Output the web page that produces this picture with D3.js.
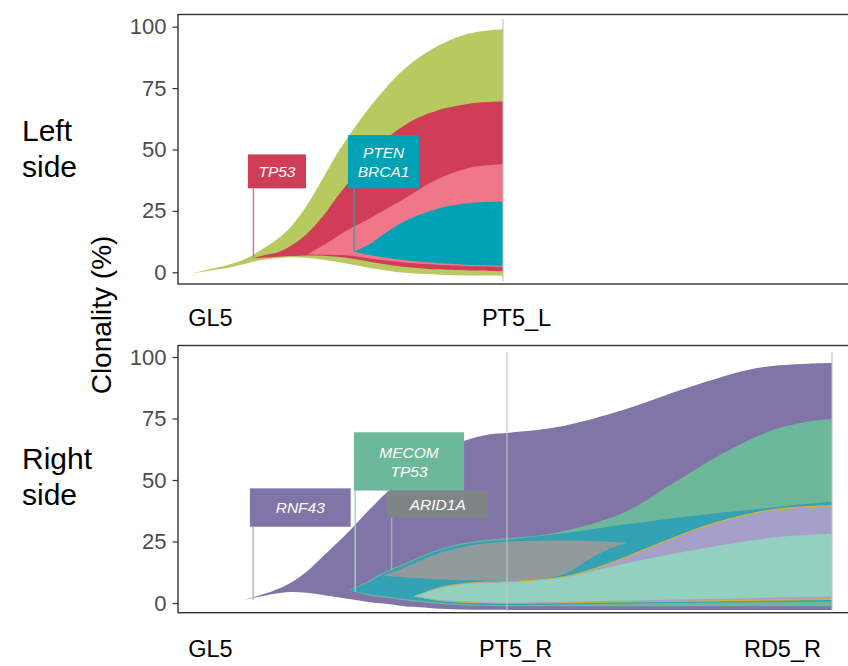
<!DOCTYPE html>
<html><head><meta charset="utf-8">
<script src="https://cdn.jsdelivr.net/npm/d3@7"></script>
<style>body{margin:0;background:#fff}svg{display:block}</style>
</head><body>
<svg id="c" width="848" height="666"></svg>
<script>
// ---------------- DATA ----------------
const yTicks = [0, 25, 50, 75, 100];
const timepointsTop = ["GL5", "PT5_L"];
const timepointsBottom = ["GL5", "PT5_R", "RD5_R"];
const labelPosTop = [9.8, 104];
const labelPosBottom = [8.6, 102.5, 184.6];
const sampleTimesTop = [100];
const sampleTimesBottom = [100, 200];

// Left side clones (t, lower %, upper %)
const leftGreenT  = [4.7, 10.9, 16, 21, 26, 31, 35, 39.5, 44.7, 48.8, 54, 59.1, 69.3, 79.6, 89.8, 100];
const leftGreenLo = [-0.4, 0.9, 2, 3.6, 5, 5.8, 6.1, 5.9, 5.1, 4.3, 3.1, 1.8, -0.1, -0.9, -1.35, -1.5];
const leftGreenHi = [-0.4, 1.6, 3.3, 5.6, 9.5, 14.0, 19.0, 27.0, 38.5, 48.0, 58.2, 67.4, 82.4, 91.9, 97.3, 99];

const leftRedT  = [23.1, 26, 31, 35, 39.5, 44.7, 48.8, 54, 59.1, 64.2, 69.3, 74.5, 79.6, 89.8, 100];
const leftRedLo = [5.6, 5.9, 6.3, 6.6, 6.8, 6.7, 6.3, 5.5, 4.3, 3.2, 2.3, 1.7, 1.2, 0.75, 0.5];
const leftRedHi = [5.6, 6.8, 8.3, 11, 15.5, 23, 30.5, 39, 47.5, 54.5, 59.5, 63.3, 65.8, 68.7, 69.5];

const leftPinkT  = [39.7, 44.7, 48.8, 54, 59.1, 69.3, 79.6, 89.8, 100];
const leftPinkLo = [7.2, 7.1, 7.0, 6.6, 5.6, 4.0, 3.1, 2.5, 2.2];
const leftPinkHi = [7.2, 11, 14.5, 18.5, 22, 29.7, 37.8, 42.6, 44];

const leftTealT  = [54.2, 59.1, 62.2, 69.3, 79.6, 89.8, 100];
const leftTealLo = [8.4, 7.0, 6.3, 5.0, 3.8, 3.0, 2.7];
const leftTealHi = [8.4, 11.5, 14.5, 20.5, 25.8, 28.2, 28.7];

// Right side clones
const rightPurpleT  = [18.9, 28.1, 33.2, 38.4, 43.4, 48.6, 52, 55.9, 59.9, 64, 69, 73.2, 79.4, 86.5, 94.8, 100, 115.4, 135.7, 156.3, 176.9, 192.3, 200];
const rightPurpleLo = [1.2, 3.7, 4.5, 4.2, 3.3, 2.2, 1.5, 0.7, 0.0, -0.5, -1.4, -1.7, -2.3, -2.6, -2.75, -2.8, -2.8, -2.8, -2.8, -2.8, -2.8, -2.8];
const rightPurpleHi = [1.2, 5.0, 8.0, 12.8, 19.0, 25.5, 30.0, 35.5, 41.0, 46.0, 51.5, 55.8, 61.2, 65.8, 68.6, 69.1, 71.5, 78.5, 87.8, 95.5, 97.3, 97.6];

const rightGreenT  = [51.4, 56.8, 61.9, 69.1, 79.4, 89.6, 100, 115.4, 135.7, 151.1, 166.5, 181.8, 192.3, 200];
const rightGreenLo = [5.3, 3.3, 2.3, 1.0, -0.4, -1.1, -1.3, -1.3, -1.3, -1.3, -1.3, -1.3, -1.3, -1.3];
const rightGreenHi = [5.3, 8.5, 12.3, 16.4, 22, 25, 26.3, 28.7, 36.6, 48.7, 60.9, 70.3, 73.7, 74.8];

const rightTealT  = [51.4, 56.8, 61.9, 69.1, 79.4, 89.6, 100, 115.4, 135.7, 151.1, 166.5, 181.8, 192.3, 200];
const rightTealLo = [5.3, 3.8, 2.8, 1.5, 0.1, -0.6, -0.8, -0.6, -0.3, 0, 0.2, 0.4, 0.5, 0.6];
const rightTealHi = [5.3, 8.0, 11.8, 15.9, 21.5, 24.5, 25.8, 28, 31.8, 34.5, 36.8, 38.8, 40.3, 41.2];

const rightGrayT  = [61.9, 69.1, 79.4, 89.6, 100, 110, 118.4, 123.4, 128, 131.7, 134.5, 137.2];
const rightGrayLo = [11, 10.4, 9.6, 9.2, 9.1, 9.6, 12.2, 16.2, 19.8, 22.2, 23.5, 24.4];
const rightGrayHi = [11, 14.8, 20.4, 23.6, 24.9, 25.3, 25.4, 25.3, 25.1, 24.9, 24.7, 24.4];

const rightSubT     = [71.2, 79.4, 89.6, 100, 118.4, 133.8, 149.1, 164.5, 179.9, 190.2, 200];
const rightYellowLo = [2.6, 0.8, 0, -0.3, -0.1, 0.2, 0.4, 0.6, 0.9, 1.05, 1.2];
const rightYellowHi = [2.6, 6.5, 8.4, 8.9, 11.1, 17.5, 25.6, 33, 37.8, 39.2, 39.8];
const rightLavLo    = [2.6, 1.0, 0.2, -0.1, 0.2, 0.5, 0.8, 1.1, 1.5, 1.7, 1.9];
const rightLavHi    = [2.6, 6.2, 8.15, 8.5, 10.7, 17.0, 25.1, 32.5, 37.3, 38.7, 39.3];
const rightMintLo   = [2.6, 1.2, 0.4, 0.1, 0.5, 0.9, 1.3, 1.7, 2.1, 2.4, 2.6];
const rightMintHi   = [2.6, 6.0, 8.0, 8.3, 10.6, 15.3, 19.5, 23.2, 26.3, 27.5, 28.3];

// Annotations: label lines, anchor (t, %), box extent in data units
const annLeft = [
  {lines: ["TP53"], t: 23.2, v: 5.7, t0: 21.5, t1: 39.4, v0: 34.2, v1: 48.0},
  {lines: ["PTEN", "BRCA1"], t: 54.2, v: 8.4, t0: 52.3, t1: 74.2, v0: 34.2, v1: 55.9}
];
const annRight = [
  {lines: ["RNF43"], t: 21.9, v: 1.2, t0: 20.9, t1: 51.9, v0: 31.0, v1: 46.6},
  {lines: ["MECOM", "TP53"], t: 53.3, v: 4.6, t0: 52.9, t1: 86.8, v0: 45.7, v1: 69.4},
  {lines: ["ARID1A"], t: 64.5, v: 13.4, t0: 63.2, t1: 94.2, v0: 34.7, v1: 45.5}
];

// ---------------- STYLE ----------------
const FONT = "'Liberation Sans', Arial, Helvetica, sans-serif";
const C = {
  lGreen: "#b8ca5f", lRed: "#cf3d56", lPink: "#f0768a", lTeal: "#00a3b5",
  rPurple: "#8175a8", rGreen: "#6db79a", rTeal: "#33a2b5", rGray: "#919b9b",
  rYellow: "#d4b42e", rLav: "#a59fc9", rMint: "#93d0bf"
};
const annLeftStyle = [{fill: "#cf3d56", line: "#dc7486"}, {fill: "#00a3b5", line: "#5d8e9e"}];
const annRightStyle = [{fill: "#8175a8", line: "#b6b0d5"}, {fill: "#6db79a", line: "#9fd4bd"}, {fill: "#7f8585", line: "#a9acac"}];

const svg = d3.select("#c");
const curve = d3.curveCatmullRom.alpha(0.5);

const panels = [
  {x: d3.scaleLinear().domain([0, 100]).range([178, 503]),
   y: d3.scaleLinear().domain([0, 100]).range([272.3, 26.7]),
   box: [178, 14.5, 680, 269.5], vline: [19, 281],
   samples: sampleTimesTop, labels: timepointsTop, labelPos: labelPosTop, labelY: 326,
   clones: [
     [leftGreenT, leftGreenLo, leftGreenHi, C.lGreen],
     [leftRedT, leftRedLo, leftRedHi, C.lRed],
     [leftPinkT, leftPinkLo, leftPinkHi, C.lPink],
     [leftTealT, leftTealLo, leftTealHi, C.lTeal]
   ],
   ann: annLeft, annStyle: annLeftStyle,
   title: ["Left", "side"], titleY: 141},
  {x: d3.scaleLinear().domain([0, 200]).range([182, 832]),
   y: d3.scaleLinear().domain([0, 100]).range([603, 357]),
   box: [178, 345.5, 680, 267.2], vline: [352, 611],
   samples: sampleTimesBottom, labels: timepointsBottom, labelPos: labelPosBottom, labelY: 657,
   clones: [
     [rightPurpleT, rightPurpleLo, rightPurpleHi, C.rPurple],
     [rightGreenT, rightGreenLo, rightGreenHi, C.rGreen],
     [rightTealT, rightTealLo, rightTealHi, C.rTeal],
     [rightGrayT, rightGrayLo, rightGrayHi, C.rGray],
     [rightSubT, rightYellowLo, rightYellowHi, C.rYellow],
     [rightSubT, rightLavLo, rightLavHi, C.rLav],
     [rightSubT, rightMintLo, rightMintHi, C.rMint]
   ],
   ann: annRight, annStyle: annRightStyle,
   title: ["Right", "side"], titleY: 469}
];

panels.forEach((p, pi) => {
  const g = svg.append("g");
  const clipId = "clip" + pi;
  svg.append("clipPath").attr("id", clipId).append("rect")
    .attr("x", p.box[0]).attr("y", p.box[1]).attr("width", p.box[2]).attr("height", p.box[3]);
  const body = g.append("g").attr("clip-path", `url(#${clipId})`);

  // clones
  p.clones.forEach(([T, lo, hi, col]) => {
    const data = T.map((t, i) => ({t, lo: lo[i], hi: hi[i]}));
    body.append("path").datum(data)
      .attr("d", d3.area().x(d => p.x(d.t)).y0(d => p.y(d.lo)).y1(d => p.y(d.hi)).curve(curve))
      .attr("fill", col);
  });

  // sample lines
  body.selectAll("line.s").data(p.samples).join("line")
    .attr("x1", d => p.x(d)).attr("x2", d => p.x(d))
    .attr("y1", p.vline[0]).attr("y2", p.vline[1])
    .attr("stroke", "#c4c4c4").attr("stroke-width", 1.1);

  // annotations
  p.ann.forEach((a, i) => {
    const st = p.annStyle[i];
    body.append("line")
      .attr("x1", p.x(a.t)).attr("x2", p.x(a.t))
      .attr("y1", p.y(a.v0)).attr("y2", p.y(a.v))
      .attr("stroke", st.line).attr("stroke-width", 1.4);
  });
  p.ann.forEach((a, i) => {
    const st = p.annStyle[i];
    const bx = p.x(a.t0), bw = p.x(a.t1) - p.x(a.t0);
    const by = p.y(a.v1), bh = p.y(a.v0) - p.y(a.v1);
    body.append("rect").attr("x", bx).attr("y", by).attr("width", bw).attr("height", bh).attr("fill", st.fill);
    const n = a.lines.length, lh = 19;
    a.lines.forEach((txt, k) => {
      body.append("text")
        .attr("x", bx + bw / 2)
        .attr("y", by + bh / 2 + (k - (n - 1) / 2) * lh)
        .attr("dy", "0.36em")
        .attr("text-anchor", "middle")
        .attr("font-family", FONT).attr("font-style", "italic").attr("font-size", 15.5)
        .attr("fill", "#ffffff").text(txt);
    });
  });

  // y axis
  const ya = g.append("g").attr("transform", `translate(${p.box[0]},0)`)
    .call(d3.axisLeft(p.y).tickValues(yTicks).tickSize(5.5).tickPadding(6));
  ya.select(".domain").remove();
  ya.selectAll(".tick line").attr("stroke", "#333").attr("stroke-width", 1.2);
  ya.selectAll(".tick text").attr("font-family", FONT).attr("font-size", 22).attr("fill", "#4d4d4d");

  // x labels
  const xa = g.append("g").attr("transform", `translate(0,${p.labelY})`)
    .call(d3.axisBottom(p.x).tickValues(p.labelPos).tickSize(0).tickPadding(0)
      .tickFormat((d, i) => p.labels[i]));
  xa.select(".domain").remove();
  xa.selectAll(".tick text").attr("dy", 0).attr("y", 0)
    .attr("font-family", FONT).attr("font-size", 23.5).attr("fill", "#000");

  // panel border
  g.append("rect").attr("x", p.box[0]).attr("y", p.box[1]).attr("width", p.box[2]).attr("height", p.box[3])
    .attr("fill", "none").attr("stroke", "#333").attr("stroke-width", 1.4);

  // row title
  p.title.forEach((t, k) => {
    svg.append("text").attr("x", 22).attr("y", p.titleY + k * 36)
      .attr("font-family", FONT).attr("font-size", 30).attr("fill", "#000").text(t);
  });
});

// y axis title
svg.append("text")
  .attr("transform", "translate(111,315) rotate(-90)")
  .attr("text-anchor", "middle")
  .attr("font-family", FONT).attr("font-size", 28).attr("fill", "#000")
  .text("Clonality (%)");
</script>
</body></html>
